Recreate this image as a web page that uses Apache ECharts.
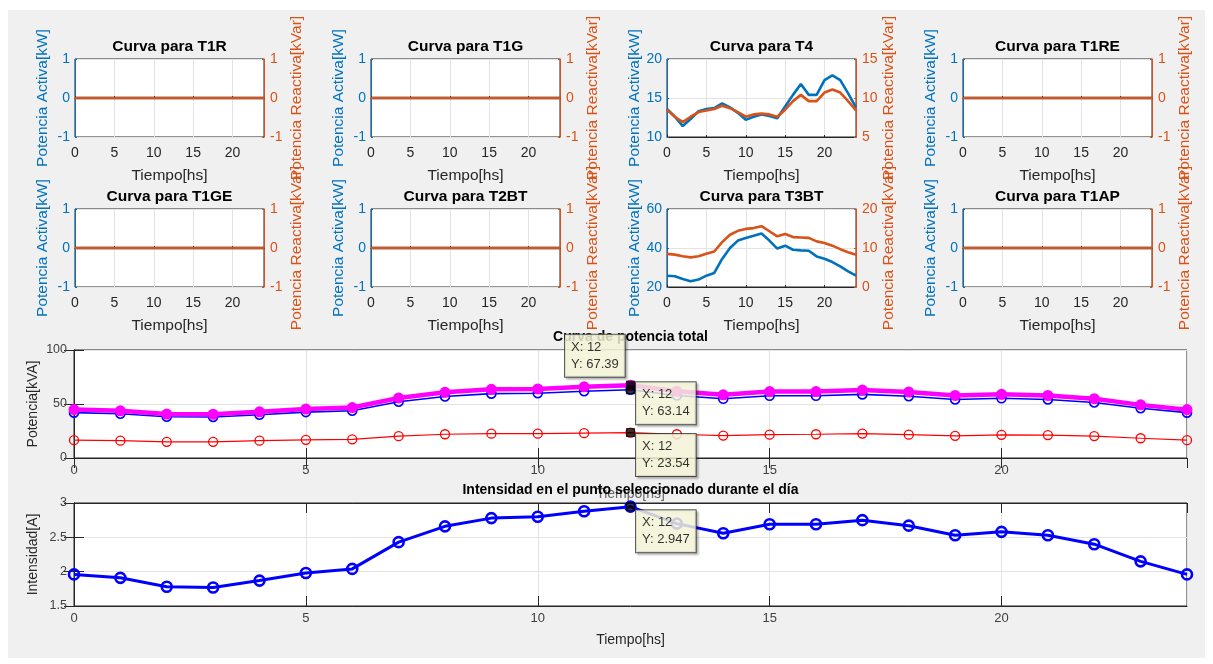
<!DOCTYPE html>
<html>
<head>
<meta charset="utf-8">
<script src="https://cdn.jsdelivr.net/npm/echarts@6/dist/echarts.min.js"></script>
<style>
  html, body { margin: 0; padding: 0; background: #fff; }
  #chart { width: 1213px; height: 664px; }
</style>
</head>
<body>
<div id="chart"></div>
<script>
const FONT = 'Liberation Sans, Arial, sans-serif';

const hours = [0, 1, 2, 3, 4, 5, 6, 7, 8, 9, 10, 11, 12, 13, 14, 15, 16, 17, 18, 19, 20, 21, 22, 23, 24];
const transformers = ['T1R', 'T1G', 'T4', 'T1RE', 'T1GE', 'T2BT', 'T3BT', 'T1AP'];

const zeroCurve = [0, 0, 0, 0, 0, 0, 0, 0, 0, 0, 0, 0, 0, 0, 0, 0, 0, 0, 0, 0, 0, 0, 0, 0, 0];
const t4Active = [13.6, 12.6, 11.4, 12.3, 13.3, 13.6, 13.7, 14.3, 13.8, 13.1, 12.2, 12.6, 12.9, 12.7, 12.4, 13.9, 15.4, 16.8, 15.4, 15.4, 17.3, 17.9, 17.3, 15.6, 13.8];
const t4Reactive = [8.5, 7.6, 6.9, 7.6, 8.2, 8.4, 8.6, 9.0, 8.7, 8.2, 7.6, 7.9, 8.0, 7.9, 7.6, 8.5, 9.6, 10.4, 9.6, 9.6, 10.7, 11.1, 10.7, 9.6, 8.4];
const t3btActive = [25.8, 25.5, 24.1, 22.9, 23.8, 25.8, 27.2, 34.4, 40.0, 43.8, 45.1, 46.3, 47.4, 43.8, 39.7, 41.2, 39.1, 38.8, 38.6, 35.7, 34.5, 32.8, 30.6, 28.0, 25.8];
const t3btReactive = [8.5, 8.3, 7.9, 7.6, 7.9, 8.5, 9.1, 11.5, 13.4, 14.4, 14.9, 15.1, 15.6, 14.3, 13.0, 13.6, 12.8, 12.7, 12.6, 11.7, 11.3, 10.6, 9.7, 8.9, 8.3];

const activeCurves = [zeroCurve, zeroCurve, t4Active, zeroCurve, zeroCurve, zeroCurve, t3btActive, zeroCurve];
const reactiveCurves = [zeroCurve, zeroCurve, t4Reactive, zeroCurve, zeroCurve, zeroCurve, t3btReactive, zeroCurve];
// [min, max, interval] of each small plot's left and right axis
const activeLimits = [[-1, 1, 1], [-1, 1, 1], [10, 20, 5], [-1, 1, 1], [-1, 1, 1], [-1, 1, 1], [20, 60, 20], [-1, 1, 1]];
const reactiveLimits = [[-1, 1, 1], [-1, 1, 1], [5, 15, 5], [-1, 1, 1], [-1, 1, 1], [-1, 1, 1], [0, 20, 10], [-1, 1, 1]];

const totalActive = [42.0, 41.0, 38.2, 38.0, 40.1, 42.5, 43.8, 52.1, 57.0, 59.6, 60.0, 61.8, 63.14, 57.9, 54.8, 57.6, 57.6, 58.9, 57.2, 54.2, 55.3, 54.2, 51.4, 46.1, 42.0];
const totalReactive = [16.5, 16.0, 15.0, 15.0, 16.0, 16.8, 17.3, 20.2, 22.0, 22.5, 22.5, 23.0, 23.54, 22.0, 20.8, 21.6, 22.0, 22.6, 21.6, 20.5, 21.5, 21.2, 20.3, 18.3, 16.5];
const totalApparent = [44.8, 43.7, 40.7, 40.5, 42.8, 45.3, 46.7, 55.6, 60.8, 63.6, 64.0, 65.9, 67.39, 61.8, 58.5, 61.5, 61.5, 62.9, 61.1, 57.9, 59.0, 57.9, 54.9, 49.2, 44.8];
const intensity = [1.96, 1.91, 1.78, 1.77, 1.87, 1.98, 2.04, 2.43, 2.66, 2.78, 2.80, 2.88, 2.947, 2.70, 2.56, 2.69, 2.69, 2.75, 2.67, 2.53, 2.58, 2.53, 2.40, 2.15, 1.96];
const tipHour = 12;

const BLUE = '#0072BD';
const ORANGE = '#D95319';
const AXIS = '#262626';
const GRIDLINE = '#e3e3e3';
const HOLLOW = 'rgba(0,0,0,0)';

const colLeft = [75, 371, 667, 963];
const rowTop = [59, 209];
const smallW = 189;
const smallH = 78;

const pairs = (values) => hours.map((h, i) => [h, values[i]]);

const grids = [];
const xAxes = [];
const yAxes = [];
const series = [];
const texts = [];

transformers.forEach((name, i) => {
  const left = colLeft[i % 4];
  const top = rowTop[Math.floor(i / 4)];
  grids.push({ left, top, width: smallW, height: smallH, show: true, backgroundColor: '#fff', borderColor: AXIS, borderWidth: 1 });
  texts.push({ text: `Curva para ${name}`, x: left + smallW / 2, y: top - 12, font: `bold 15.5px ${FONT}` });
  xAxes.push({
    gridIndex: i, type: 'value', min: 0, max: 24, interval: 5,
    name: 'Tiempo[hs]', nameLocation: 'middle', nameGap: 31, nameMoveOverlap: false,
    nameTextStyle: { color: AXIS, fontSize: 15.5, fontFamily: FONT },
    axisLine: { lineStyle: { color: AXIS } },
    axisTick: { inside: true, length: 2, lineStyle: { color: AXIS } },
    axisLabel: { color: AXIS, fontSize: 14, fontFamily: FONT, margin: 9, showMaxLabel: false },
    splitLine: { show: true, lineStyle: { color: GRIDLINE } },
  });
  const [amin, amax, aint] = activeLimits[i];
  const [rmin, rmax, rint] = reactiveLimits[i];
  yAxes.push({
    gridIndex: i, type: 'value', position: 'left', min: amin, max: amax, interval: aint,
    name: 'Potencia Activa[kW]', nameLocation: 'middle', nameGap: 24, nameMoveOverlap: false,
    nameTextStyle: { color: BLUE, fontSize: 15.5, fontFamily: FONT },
    axisLine: { show: true, lineStyle: { color: BLUE } },
    axisTick: { show: true, inside: true, length: 2, lineStyle: { color: BLUE } },
    axisLabel: { color: BLUE, fontSize: 14, fontFamily: FONT, margin: 5 },
    splitLine: { show: true, lineStyle: { color: GRIDLINE } },
  });
  yAxes.push({
    gridIndex: i, type: 'value', position: 'right', min: rmin, max: rmax, interval: rint,
    name: 'Potencia Reactiva[kVar]', nameLocation: 'middle', nameGap: 25, nameMoveOverlap: false,
    nameTextStyle: { color: ORANGE, fontSize: 15.5, fontFamily: FONT },
    axisLine: { show: true, lineStyle: { color: ORANGE } },
    axisTick: { show: true, inside: true, length: 2, lineStyle: { color: ORANGE } },
    axisLabel: { color: ORANGE, fontSize: 14, fontFamily: FONT, margin: 6 },
    splitLine: { show: false },
  });
  series.push({
    type: 'line', xAxisIndex: i, yAxisIndex: 2 * i, data: pairs(activeCurves[i]),
    showSymbol: false, lineStyle: { color: BLUE, width: 2.6 }, itemStyle: { color: BLUE }, z: 2,
  });
  series.push({
    type: 'line', xAxisIndex: i, yAxisIndex: 2 * i + 1, data: pairs(reactiveCurves[i]),
    showSymbol: false, lineStyle: { color: ORANGE, width: 2.6 }, itemStyle: { color: ORANGE }, z: 3,
  });
});

function bigPlot(top, height, ymin, ymax, yint, yName, xNameGap, xNameColor, title) {
  const g = grids.length;
  grids.push({ left: 74, top, width: 1113, height, show: true, backgroundColor: '#fff', borderColor: AXIS, borderWidth: 1 });
  texts.push({ text: title, x: 74 + 1113 / 2, y: top - 13, font: `bold 14px ${FONT}` });
  const xi = xAxes.length;
  xAxes.push({
    gridIndex: g, type: 'value', min: 0, max: 24, interval: 5,
    name: 'Tiempo[hs]', nameLocation: 'middle', nameGap: xNameGap, nameMoveOverlap: false,
    nameTextStyle: { color: xNameColor, fontSize: 14, fontFamily: FONT },
    axisLine: { lineStyle: { color: AXIS } },
    axisTick: { inside: true, length: 10, lineStyle: { color: AXIS } },
    axisLabel: { color: '#404040', fontSize: 13, fontFamily: FONT, margin: 6, showMaxLabel: false },
    splitLine: { show: true, lineStyle: { color: GRIDLINE } },
  });
  xAxes.push({
    gridIndex: g, type: 'value', position: 'top', min: 0, max: 24, interval: 5,
    axisLine: { lineStyle: { color: AXIS } },
    axisTick: { inside: true, length: 10, lineStyle: { color: AXIS } },
    axisLabel: { show: false }, splitLine: { show: false },
  });
  const yi = yAxes.length;
  yAxes.push({
    gridIndex: g, type: 'value', position: 'left', min: ymin, max: ymax, interval: yint,
    name: yName, nameLocation: 'middle', nameGap: 34, nameMoveOverlap: false,
    nameTextStyle: { color: AXIS, fontSize: 14, fontFamily: FONT },
    axisLine: { show: true, lineStyle: { color: AXIS } },
    axisTick: { show: true, inside: true, length: 10, lineStyle: { color: AXIS } },
    axisLabel: { color: '#404040', fontSize: 12.5, fontFamily: FONT, margin: 7 },
    splitLine: { show: true, lineStyle: { color: GRIDLINE } },
  });
  yAxes.push({
    gridIndex: g, type: 'value', position: 'right', min: ymin, max: ymax, interval: yint,
    axisLine: { show: true, lineStyle: { color: AXIS } },
    axisTick: { show: true, inside: true, length: 10, lineStyle: { color: AXIS } },
    axisLabel: { show: false }, splitLine: { show: false },
  });
  return [xi, yi];
}

const [txi, tyi] = bigPlot(350, 108, 0, 100, 50, 'Potencia[kVA]', 29, '#666', 'Curva de potencia total');
const [ixi, iyi] = bigPlot(503, 103, 1.5, 3, 0.5, 'Intensidad[A]', 27, AXIS, 'Intensidad en el punto seleccionado durante el día');

// hollow circles: transparent fill, coloured outline
function ringLine(xi, yi, values, color, width, size, ring, z) {
  return {
    type: 'line', xAxisIndex: xi, yAxisIndex: yi, data: pairs(values), z,
    symbol: 'circle', symbolSize: size, lineStyle: { color, width },
    itemStyle: { color: HOLLOW, borderColor: color, borderWidth: ring },
  };
}

series.push(ringLine(txi, tyi, totalActive, '#0000ff', 1.6, 9, 1.6, 3));
series.push(ringLine(txi, tyi, totalReactive, '#ff0000', 1.2, 9, 1.3, 3));
series.push({
  type: 'line', xAxisIndex: txi, yAxisIndex: tyi, data: pairs(totalApparent),
  symbol: 'circle', symbolSize: 11, lineStyle: { color: '#ff00ff', width: 4.5 },
  itemStyle: { color: '#ff00ff' }, z: 4,
});
series.push(ringLine(ixi, iyi, intensity, '#0000ff', 3, 10, 2.6, 3));

function dataTip(xi, yi, value, offset) {
  return {
    type: 'scatter', xAxisIndex: xi, yAxisIndex: yi, z: 20, silent: true,
    symbol: 'rect', symbolSize: 9, itemStyle: { color: '#000', borderColor: '#000', borderWidth: 0 },
    data: [[tipHour, value]],
    label: {
      show: true, position: offset, align: 'left', verticalAlign: 'top',
      formatter: `X: ${tipHour}\nY: ${Number(value.toPrecision(4))}`,
      backgroundColor: '#ffffe1', borderColor: '#333', borderWidth: 1,
      padding: [4, 6, 4, 6], lineHeight: 17, fontSize: 13, fontFamily: FONT, color: '#000',
      shadowColor: 'rgba(0,0,0,0.25)', shadowBlur: 2, shadowOffsetX: 2, shadowOffsetY: 2,
    },
  };
}

series.push(dataTip(txi, tyi, totalApparent[12], [-61, -46]));
series.push(dataTip(txi, tyi, totalActive[12], [10, -3]));
series.push(dataTip(txi, tyi, totalReactive[12], [10, 6]));
series.push(dataTip(ixi, iyi, intensity[12], [10, 8]));

series.forEach((s) => { s.animation = false; s.emphasis = { disabled: true }; });

const chart = echarts.init(document.getElementById('chart'));
chart.setOption({
  animation: false,
  textStyle: { fontFamily: FONT },
  grid: grids,
  xAxis: xAxes,
  yAxis: yAxes,
  series,
  graphic: [
    { type: 'rect', z: -10, shape: { x: 8, y: 10, width: 1197, height: 648 }, style: { fill: '#f0f0f0' } },
    ...texts.map((t) => ({
      type: 'text', z: 5, x: t.x, y: t.y,
      style: { text: t.text, font: t.font, fill: '#000', align: 'center', verticalAlign: 'middle', textAlign: 'center', textVerticalAlign: 'middle' },
    })),
  ],
});
</script>
</body>
</html>
